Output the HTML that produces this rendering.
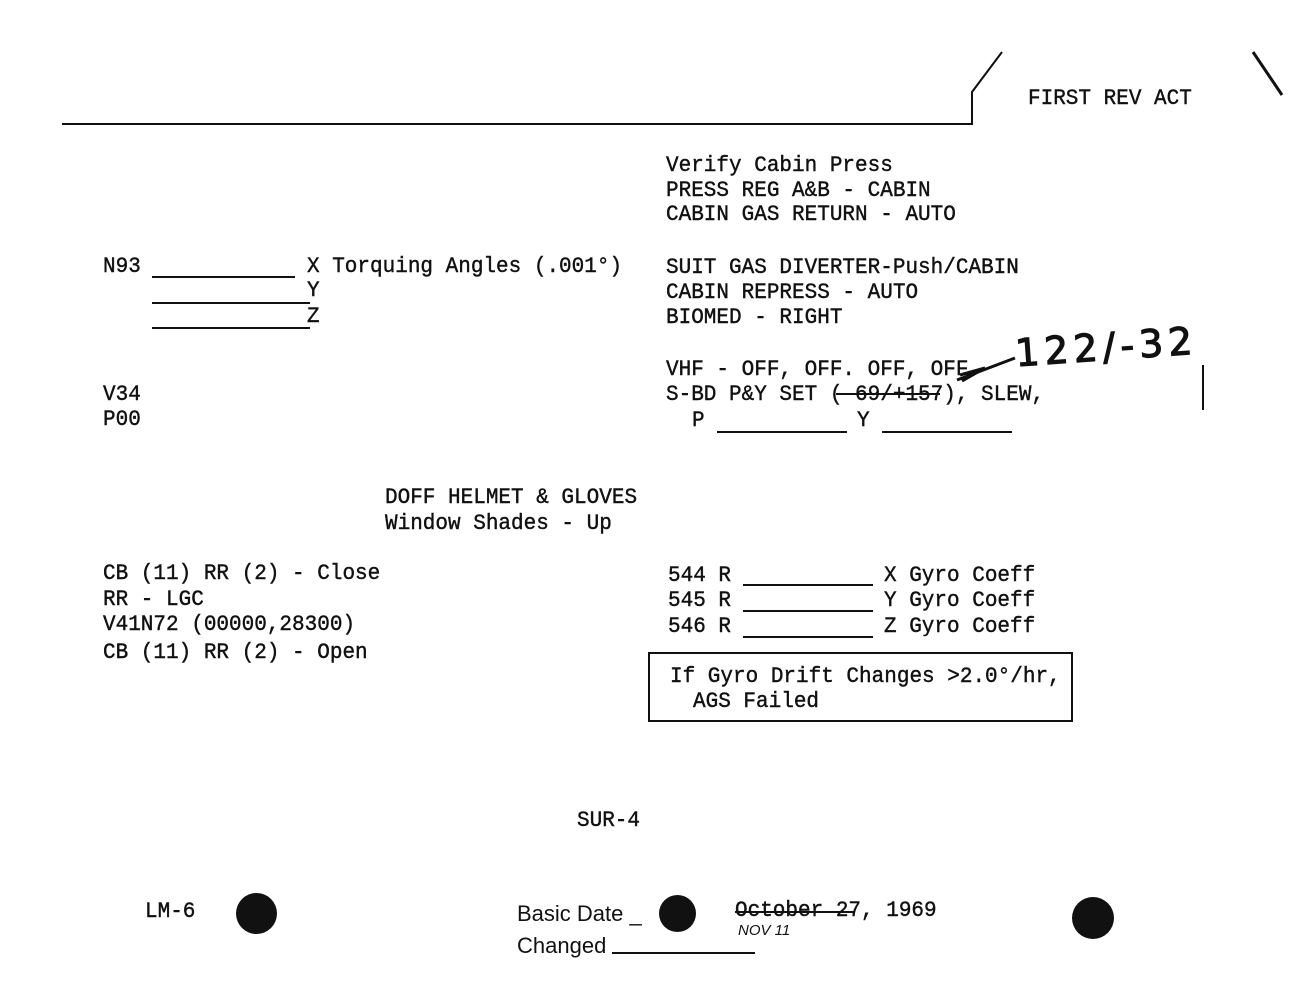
<!DOCTYPE html>
<html><head><meta charset="utf-8"><style>
body{margin:0;width:1302px;height:1000px;background:#fff;position:relative;overflow:hidden}
.t{position:absolute;font-family:"Liberation Mono",monospace;font-size:21px;line-height:21px;color:#111;white-space:pre;transform:translateY(4px) scaleY(1.05);transform-origin:0 0;-webkit-text-stroke:0.4px #111}
.l{position:absolute;height:2px;background:#111}
.s{position:absolute;font-family:"Liberation Sans",sans-serif;font-size:22px;line-height:22px;color:#111;white-space:pre}
.d{position:absolute;border-radius:50%;background:#111}
</style></head><body>
<div class="l" style="left:62px;top:123px;width:911px"></div>
<svg style="position:absolute;left:0;top:0" width="1302" height="1000">
<path d="M972 124 L972 92 L1002 52" stroke="#111" stroke-width="2" fill="none"/>
<path d="M1253 52 L1282 95" stroke="#111" stroke-width="3" fill="none"/>
<path d="M957 380 L1015 358 M960 375 L985 368 L962 381" stroke="#111" stroke-width="3" fill="none"/>
<path d="M1203 365 L1203 410" stroke="#111" stroke-width="2"/>
<path d="M836 394 L940 394" stroke="#111" stroke-width="2"/>
<path d="M735 912 L855 912" stroke="#111" stroke-width="2"/>
<path d="M612 953 L755 953" stroke="#111" stroke-width="2"/>
</svg>
<div class="t" style="left:1028px;top:84px">FIRST REV ACT</div>
<div class="t" style="left:666px;top:151px">Verify Cabin Press</div>
<div class="t" style="left:666px;top:176px">PRESS REG A&amp;B - CABIN</div>
<div class="t" style="left:666px;top:200px">CABIN GAS RETURN - AUTO</div>
<div class="t" style="left:103px;top:252px">N93</div>
<div class="l" style="left:152px;top:276px;width:143px"></div>
<div class="t" style="left:307px;top:252px">X Torquing Angles (.001°)</div>
<div class="t" style="left:307px;top:276px">Y</div>
<div class="l" style="left:152px;top:302px;width:158px"></div>
<div class="t" style="left:307px;top:302px">Z</div>
<div class="l" style="left:152px;top:327px;width:158px"></div>
<div class="t" style="left:666px;top:253px">SUIT GAS DIVERTER-Push/CABIN</div>
<div class="t" style="left:666px;top:278px">CABIN REPRESS - AUTO</div>
<div class="t" style="left:666px;top:303px">BIOMED - RIGHT</div>
<div class="t" style="left:666px;top:355px">VHF - OFF, OFF. OFF, OFF</div>
<div class="t" style="left:666px;top:380px">S-BD P&amp;Y SET ( 69/+157), SLEW,</div>
<div class="t" style="left:692px;top:406px">P</div>
<div class="l" style="left:717px;top:431px;width:130px"></div>
<div class="t" style="left:857px;top:406px">Y</div>
<div class="l" style="left:882px;top:431px;width:130px"></div>
<div class="s" style="left:1015px;top:328px;font-family:'DejaVu Sans',sans-serif;font-size:38px;line-height:38px;letter-spacing:5px;-webkit-text-stroke:1.2px #111;transform:rotate(-4deg)">122/-32</div>
<div class="t" style="left:103px;top:380px">V34</div>
<div class="t" style="left:103px;top:405px">P00</div>
<div class="t" style="left:385px;top:483px">DOFF HELMET &amp; GLOVES</div>
<div class="t" style="left:385px;top:509px">Window Shades - Up</div>
<div class="t" style="left:103px;top:559px">CB (11) RR (2) - Close</div>
<div class="t" style="left:103px;top:585px">RR - LGC</div>
<div class="t" style="left:103px;top:610px">V41N72 (00000,28300)</div>
<div class="t" style="left:103px;top:638px">CB (11) RR (2) - Open</div>
<div class="t" style="left:668px;top:561px">544 R</div>
<div class="l" style="left:743px;top:584px;width:130px"></div>
<div class="t" style="left:884px;top:561px">X Gyro Coeff</div>
<div class="t" style="left:668px;top:586px">545 R</div>
<div class="l" style="left:743px;top:610px;width:130px"></div>
<div class="t" style="left:884px;top:586px">Y Gyro Coeff</div>
<div class="t" style="left:668px;top:612px">546 R</div>
<div class="l" style="left:743px;top:636px;width:130px"></div>
<div class="t" style="left:884px;top:612px">Z Gyro Coeff</div>
<div style="position:absolute;left:648px;top:652px;width:421px;height:66px;border:2px solid #111"></div>
<div class="t" style="left:670px;top:662px">If Gyro Drift Changes &gt;2.0°/hr,</div>
<div class="t" style="left:693px;top:687px">AGS Failed</div>
<div class="t" style="left:577px;top:806px">SUR-4</div>
<div class="t" style="left:145px;top:897px">LM-6</div>
<div class="d" style="left:236px;top:893px;width:41px;height:41px"></div>
<div class="s" style="left:517px;top:903px">Basic Date _</div>
<div class="s" style="left:517px;top:935px">Changed</div>
<div class="d" style="left:659px;top:895px;width:37px;height:37px"></div>
<div class="t" style="left:735px;top:896px">October 27, 1969</div>
<div class="s" style="left:738px;top:920px;font-size:15px;font-style:italic">NOV 11</div>
<div class="d" style="left:1072px;top:897px;width:42px;height:42px"></div>
</body></html>
